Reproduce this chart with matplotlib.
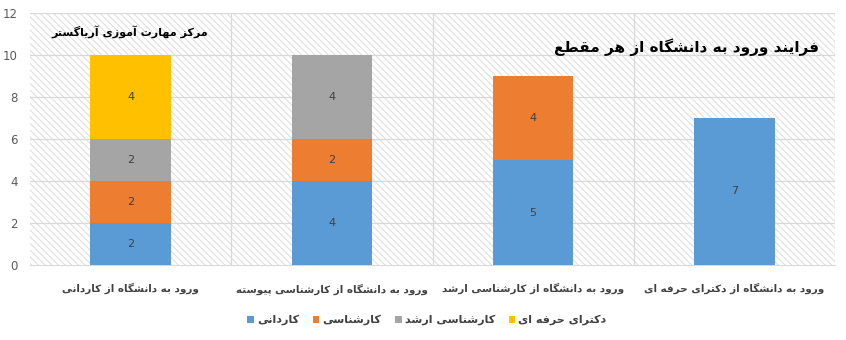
import matplotlib
matplotlib.use('Agg')
import matplotlib.pyplot as plt
from matplotlib.patches import Rectangle, Patch
import numpy as np

plt.rcParams['font.family'] = ['DejaVu Sans']
plt.rcParams['hatch.linewidth'] = 0.7

categories = ['ورود به دانشگاه از کاردانی',
              'ورود به دانشگاه از کارشناسی پیوسته',
              'ورود به دانشگاه از کارشناسی ارشد',
              'ورود به دانشگاه از دکترای حرفه ای']
series_names = ['کاردانی', 'کارشناسی', 'کارشناسی ارشد', 'دکترای حرفه ای']
kardani = [2, 4, 5, 7]
karshenasi = [2, 2, 4, 0]
arshad = [2, 4, 0, 0]
doctora = [4, 0, 0, 0]
colors = ['#5b9bd5', '#ed7d31', '#a5a5a5', '#ffc000']
title = 'فرایند ورود به دانشگاه از هر مقطع'
watermark = 'مرکز مهارت آموزی آریاگستر'

# Persian letters -> presentation forms (isolated, final, initial, medial)
FORMS = {
    'ا': '\uFE8D\uFE8E', 'آ': '\uFE81\uFE82', 'د': '\uFEA9\uFEAA',
    'ر': '\uFEAD\uFEAE', 'ز': '\uFEAF\uFEB0', 'و': '\uFEED\uFEEE',
    'ب': '\uFE8F\uFE90\uFE91\uFE92', 'پ': '\uFB56\uFB57\uFB58\uFB59',
    'ت': '\uFE95\uFE96\uFE97\uFE98', 'ح': '\uFEA1\uFEA2\uFEA3\uFEA4',
    'س': '\uFEB1\uFEB2\uFEB3\uFEB4', 'ش': '\uFEB5\uFEB6\uFEB7\uFEB8',
    'ط': '\uFEC1\uFEC2\uFEC3\uFEC4', 'ع': '\uFEC9\uFECA\uFECB\uFECC',
    'ف': '\uFED1\uFED2\uFED3\uFED4', 'ق': '\uFED5\uFED6\uFED7\uFED8',
    'ک': '\uFB8E\uFB8F\uFB90\uFB91', 'گ': '\uFB92\uFB93\uFB94\uFB95',
    'ل': '\uFEDD\uFEDE\uFEDF\uFEE0', 'م': '\uFEE1\uFEE2\uFEE3\uFEE4',
    'ن': '\uFEE5\uFEE6\uFEE7\uFEE8', 'ه': '\uFEE9\uFEEA\uFEEB\uFEEC',
    'ی': '\uFBFC\uFBFD\uFBFE\uFBFF',
}


def fa(s):
    out = []
    for i, ch in enumerate(s):
        if ch not in FORMS:
            out.append(ch)
            continue
        prev = s[i - 1] if i > 0 else ''
        nxt = s[i + 1] if i + 1 < len(s) else ''
        jp = prev in FORMS and len(FORMS[prev]) == 4
        jn = len(FORMS[ch]) == 4 and nxt in FORMS
        f = FORMS[ch]
        if jp and jn:
            out.append(f[3])
        elif jp:
            out.append(f[1])
        elif jn:
            out.append(f[2])
        else:
            out.append(f[0])
    return ''.join(reversed(out))


fig = plt.figure(figsize=(8.46, 3.40), dpi=100)
ax = fig.add_axes([30 / 846, 75 / 340, 805 / 846, 252 / 340])

# hatched plot background
ax.add_patch(Rectangle((0, 0), 1, 1, transform=ax.transAxes, facecolor='white',
                       edgecolor='#dcdcdc', hatch='\\\\\\\\\\', linewidth=0, zorder=0))

x = np.arange(len(categories))
bottom = np.zeros(len(categories))
for vals, c in zip([kardani, karshenasi, arshad, doctora], colors):
    vals = np.array(vals)
    bars = ax.bar(x, vals, width=0.4, bottom=bottom, color=c, zorder=3)
    for b, v, b0 in zip(bars, vals, bottom):
        if v > 0:
            ax.text(b.get_x() + b.get_width() / 2, b0 + v / 2, str(v),
                    ha='center', va='center', fontsize=8, color='#404040', zorder=4)
    bottom += vals

ax.set_xlim(-0.5, len(categories) - 0.5)
ax.set_ylim(0, 12)
ax.set_yticks(range(0, 13, 2))
ax.set_xticks(x)
ax.set_xticklabels([fa(c) for c in categories], fontsize=7.5, fontweight='bold', color='#404040')
ax.tick_params(axis='y', length=0, labelsize=8.5, labelcolor='#595959', pad=9)
ax.tick_params(axis='x', length=0, pad=13)
for yv in range(2, 13, 2):
    ax.axhline(yv, color='#d9d9d9', lw=0.9, zorder=1)
for xv in np.arange(0.5, len(categories) + 0.5, 1.0):
    ax.axvline(xv, color='#d9d9d9', lw=0.9, zorder=1)
for s in ['top', 'right', 'left']:
    ax.spines[s].set_visible(False)
ax.spines['bottom'].set_color('#d9d9d9')

ax.text(0.98, 0.865, fa(title), transform=ax.transAxes, ha='right', va='center',
        fontsize=11, fontweight='bold', color='black', zorder=5)
ax.text(0.124, 0.925, fa(watermark), transform=ax.transAxes, ha='center', va='center',
        fontsize=8, fontweight='bold', color='black', zorder=5)

handles = [Patch(facecolor=c) for c in colors]
labels = [fa(n) for n in series_names]
leg = fig.legend(handles, labels, loc='center', bbox_to_anchor=(427 / 846, 1 - 320 / 340),
                 ncol=4, frameon=False, handlelength=0.6, handleheight=0.6,
                 handletextpad=0.3, columnspacing=1.2, prop={'size': 8, 'weight': 'bold'})
for t in leg.get_texts():
    t.set_color('#404040')

fig.savefig('out.png', dpi=100)
